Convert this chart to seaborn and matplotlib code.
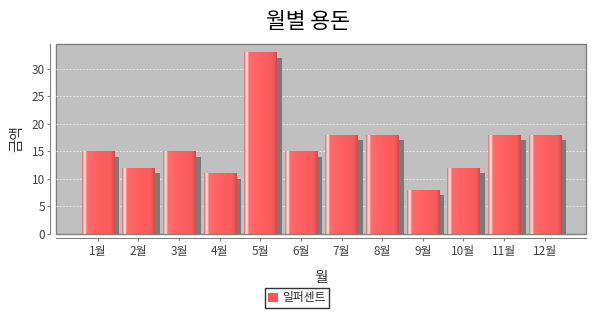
import numpy as np
import pandas as pd
import matplotlib
matplotlib.use("Agg")
import matplotlib.pyplot as plt
import seaborn as sns
from matplotlib import patheffects as pe
from matplotlib.colors import LinearSegmentedColormap
from matplotlib.patches import Patch

months = ["1월", "2월", "3월", "4월", "5월", "6월", "7월", "8월", "9월", "10월", "11월", "12월"]
values = [15, 12, 15, 11, 33, 15, 18, 18, 8, 12, 18, 18]
series_name = "일퍼센트"
title = "월별 용돈"
xlabel = "월"
ylabel = "금액"
yticks = [0, 5, 10, 15, 20, 25, 30]

sns.set_style("white")
plt.rcParams["font.family"] = ["Noto Sans CJK KR", "DejaVu Sans"]

df = pd.DataFrame({"month": months, "value": values})

fig = plt.figure(figsize=(6.15, 3.25), dpi=100)
ax = fig.add_axes([56 / 615, 1 - 234 / 325, 530 / 615, 190 / 325])
ax.set_facecolor("#c0c0c0")
ax.patch.set_edgecolor("#808080")
ax.patch.set_linewidth(1.0)

bar_color = "#ff5555"
sns.barplot(data=df, x="month", y="value", color=bar_color, width=0.79,
            saturation=1, ax=ax, zorder=3)

# gradient fill for each bar, clipped to the bar patch
cmap = LinearSegmentedColormap.from_list(
    "bar",
    [(0.0, (0.93, 0.40, 0.40)), (0.05, (1.0, 0.78, 0.78)), (0.09, (1.0, 0.90, 0.88)),
     (0.14, (1.0, 0.42, 0.42)), (0.55, (1.0, 0.37, 0.37)), (0.88, (0.97, 0.36, 0.36)),
     (1.0, (0.80, 0.30, 0.30))])
grad = np.linspace(0, 1, 64).reshape(1, -1)
for p in list(ax.patches):
    x0, w, h = p.get_x(), p.get_width(), p.get_height()
    p.set_linewidth(0)
    p.set_path_effects([pe.SimplePatchShadow(offset=(4, -4), shadow_rgbFace="#7a7a7a", alpha=1.0),
                        pe.Normal()])
    im = ax.imshow(grad, cmap=cmap, extent=[x0, x0 + w, 0, h], aspect="auto",
                   zorder=4, interpolation="bilinear")
    im.set_clip_path(p)

ax.set_xlim(-1.03, 12.02)
ax.set_ylim(0, 34.5)
ax.set_yticks(yticks)
ax.yaxis.grid(True, color="white", linestyle=(0, (2, 2)), linewidth=0.6, alpha=0.75, zorder=1)
ax.set_axisbelow(True)

for s in ["top", "right"]:
    ax.spines[s].set_visible(False)
ax.spines["left"].set_position(("outward", 4))
ax.spines["bottom"].set_position(("outward", 3))
for s in ["left", "bottom"]:
    ax.spines[s].set_color("#808080")
    ax.spines[s].set_linewidth(0.8)

ax.tick_params(axis="both", which="both", length=2, width=0.8, color="#808080",
               labelsize=8.5, labelcolor="#444444", pad=2,
               left=True, bottom=True)
ax.tick_params(axis="x", pad=3)

ax.set_xlabel(xlabel, fontsize=10.5, color="#333333", labelpad=9)
ax.set_ylabel(ylabel, fontsize=10.5, color="#333333", labelpad=5)
fig.suptitle(title, fontsize=15.5, y=1 - 22 / 325, va="center", color="black")

handle = Patch(facecolor=bar_color, edgecolor="none")
leg = fig.legend([handle], [series_name], loc="center",
                 bbox_to_anchor=(297 / 615, 1 - 298 / 325), frameon=True,
                 fontsize=8.5, handlelength=0.8, handleheight=0.8, handletextpad=0.4,
                 borderpad=0.3, fancybox=False, borderaxespad=0)
leg.get_frame().set_edgecolor("black")
leg.get_frame().set_linewidth(1.0)

fig.savefig("out.png", dpi=100, facecolor="white")
